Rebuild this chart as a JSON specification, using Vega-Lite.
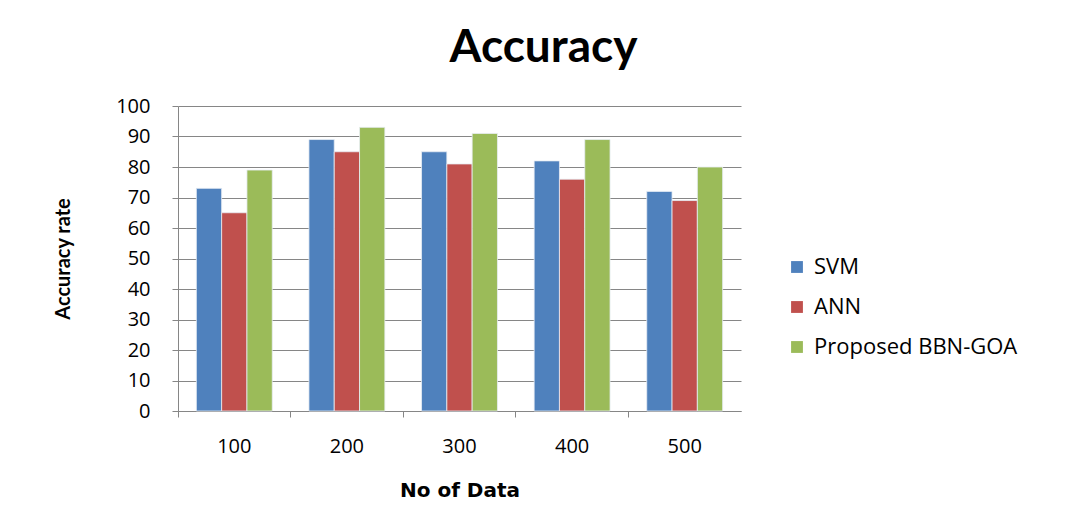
{
  "$schema": "https://vega.github.io/schema/vega-lite/v6.json",
  "autosize": {"type": "none"},
  "width": 563,
  "height": 305,
  "padding": {"left": 178, "top": 106, "right": 328, "bottom": 117},
  "background": "white",
  "title": {
    "text": "Accuracy",
    "font": "Lato",
    "fontSize": 46,
    "fontWeight": "bold",
    "color": "#000000",
    "anchor": "middle",
    "dx": 84,
    "offset": 24
  },
  "data": {
    "values": [
      {"n": "100", "model": "SVM", "acc": 73},
      {"n": "100", "model": "ANN", "acc": 65},
      {"n": "100", "model": "Proposed BBN-GOA", "acc": 79},
      {"n": "200", "model": "SVM", "acc": 89},
      {"n": "200", "model": "ANN", "acc": 85},
      {"n": "200", "model": "Proposed BBN-GOA", "acc": 93},
      {"n": "300", "model": "SVM", "acc": 85},
      {"n": "300", "model": "ANN", "acc": 81},
      {"n": "300", "model": "Proposed BBN-GOA", "acc": 91},
      {"n": "400", "model": "SVM", "acc": 82},
      {"n": "400", "model": "ANN", "acc": 76},
      {"n": "400", "model": "Proposed BBN-GOA", "acc": 89},
      {"n": "500", "model": "SVM", "acc": 72},
      {"n": "500", "model": "ANN", "acc": 69},
      {"n": "500", "model": "Proposed BBN-GOA", "acc": 80}
    ]
  },
  "mark": {"type": "bar", "stroke": "#e8eef5", "strokeWidth": 0.8},
  "encoding": {
    "x": {
      "field": "n",
      "type": "nominal",
      "scale": {"paddingInner": 0, "paddingOuter": 0},
      "axis": {
        "title": "No of Data",
        "titleFont": "DejaVu Sans",
        "titleFontSize": 20,
        "titleFontWeight": "bold",
        "titleColor": "#000000",
        "titlePadding": 24,
        "labelFont": "Open Sans",
        "labelFontSize": 20,
        "labelColor": "#000000",
        "labelAngle": 0,
        "labelPadding": 19,
        "bandPosition": 0,
        "ticks": true,
        "tickSize": 6,
        "tickColor": "#868686",
        "domainColor": "#868686",
        "grid": false
      }
    },
    "xOffset": {
      "field": "model",
      "type": "nominal",
      "sort": ["SVM", "ANN", "Proposed BBN-GOA"],
      "scale": {"paddingInner": 0, "paddingOuter": 0.725}
    },
    "y": {
      "field": "acc",
      "type": "quantitative",
      "scale": {"domain": [0, 100], "nice": false},
      "axis": {
        "title": "Accuracy rate",
        "titleFont": "Lato",
        "titleFontSize": 20,
        "titleFontWeight": "bold",
        "titleColor": "#000000",
        "titlePadding": 42,
        "values": [0, 10, 20, 30, 40, 50, 60, 70, 80, 90, 100],
        "labelFont": "Open Sans",
        "labelFontSize": 20,
        "labelColor": "#000000",
        "labelPadding": 22,
        "tickSize": 6,
        "tickColor": "#868686",
        "domainColor": "#868686",
        "gridColor": "#868686",
        "gridWidth": 1
      }
    },
    "color": {
      "field": "model",
      "type": "nominal",
      "sort": ["SVM", "ANN", "Proposed BBN-GOA"],
      "scale": {
        "domain": ["SVM", "ANN", "Proposed BBN-GOA"],
        "range": ["#4F81BD", "#C0504D", "#9BBB59"]
      },
      "legend": {
        "title": null,
        "orient": "none",
        "legendX": 608,
        "legendY": 150,
        "symbolType": "square",
        "symbolSize": 140,
        "symbolStrokeWidth": 0,
        "labelFont": "Open Sans",
        "labelFontSize": 22,
        "labelLimit": 400,
        "labelColor": "#000000",
        "rowPadding": 18,
        "labelOffset": 6
      }
    }
  },
  "config": {"view": {"stroke": null}}
}
